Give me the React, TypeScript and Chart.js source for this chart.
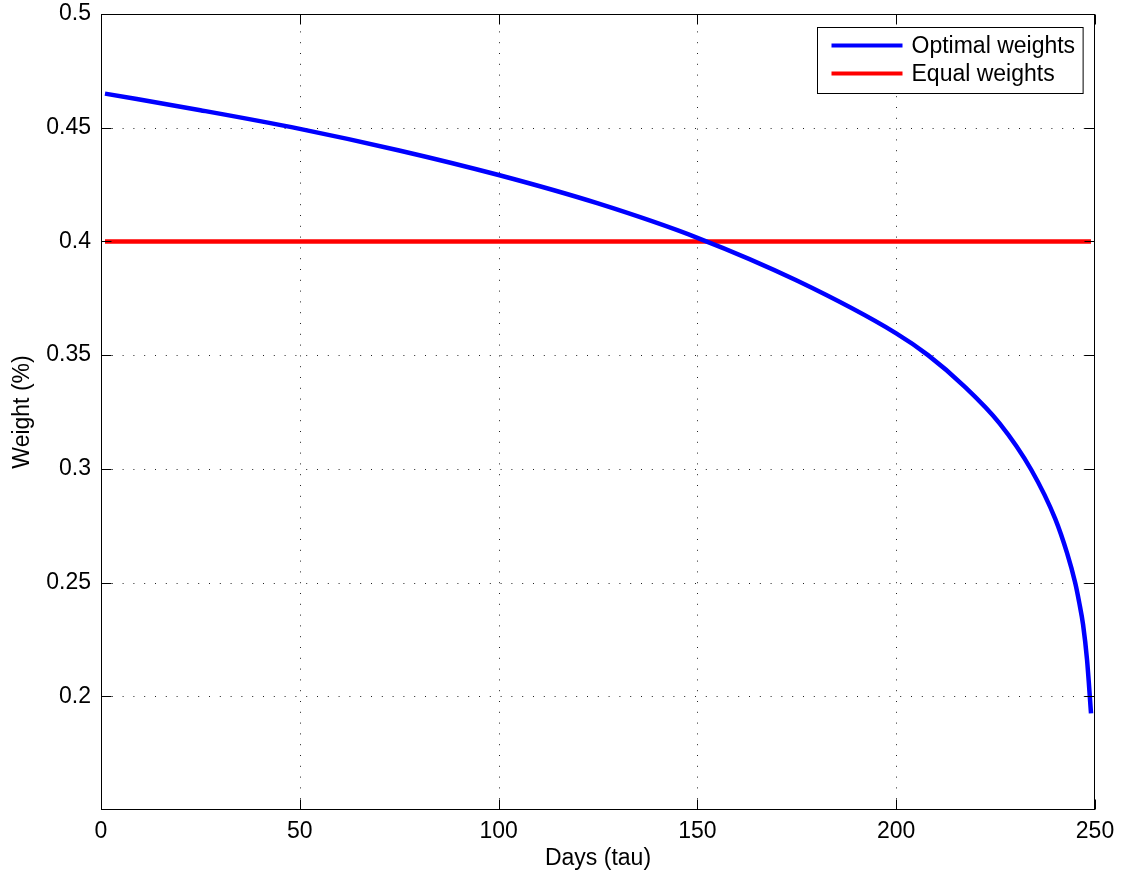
import React, { useEffect, useRef } from "react";
import { Chart, registerables } from "chart.js";

Chart.register(...registerables);

const days = [1, 25, 50, 75, 100, 125, 150, 175, 200, 208, 217, 226, 234, 240, 243, 245, 246, 247, 248, 249];
const optimalWeights = [0.465, 0.4577, 0.4495, 0.44, 0.4292, 0.4167, 0.4016, 0.3828, 0.3596, 0.35, 0.3365, 0.32, 0.2995, 0.278, 0.2628, 0.25, 0.2415, 0.2315, 0.216, 0.1925];
const equalDays = [1, 249];
const equalWeights = [0.4, 0.4];
const xTicks = [0, 50, 100, 150, 200, 250];
const yTicks = [0.2, 0.25, 0.3, 0.35, 0.4, 0.45, 0.5];
const seriesNames = ["Optimal weights", "Equal weights"];

const FONT = '"Liberation Sans", Arial, Helvetica, sans-serif';
const FS = 23;

const framePlugin = {
  id: "matlabFrame",
  beforeDatasetsDraw(chart: any) {
    const { ctx, chartArea: a, scales } = chart;
    const xs = scales.x, ys = scales.y;
    ctx.save();
    ctx.strokeStyle = "#222";
    ctx.lineWidth = 1;
    ctx.setLineDash([1, 9.8]);
    for (const v of xTicks) {
      if (v <= xs.min || v >= xs.max) continue;
      const px = Math.round(xs.getPixelForValue(v)) + 0.5;
      ctx.beginPath();
      ctx.moveTo(px, a.bottom);
      ctx.lineTo(px, a.top);
      ctx.stroke();
    }
    for (const v of yTicks) {
      if (v <= ys.min || v >= ys.max) continue;
      const py = Math.round(ys.getPixelForValue(v)) + 0.5;
      ctx.beginPath();
      ctx.moveTo(a.left, py);
      ctx.lineTo(a.right, py);
      ctx.stroke();
    }
    ctx.restore();
  },
  afterDatasetsDraw(chart: any) {
    const { ctx, chartArea: a, scales } = chart;
    const xs = scales.x, ys = scales.y;
    ctx.save();
    ctx.setLineDash([]);
    ctx.strokeStyle = "#000";
    ctx.lineWidth = 1;
    const L = Math.round(a.left) + 0.5, R = Math.round(a.right) - 0.5;
    const T = Math.round(a.top) + 0.5, B = Math.round(a.bottom) - 0.5;
    ctx.strokeRect(L, T, R - L, B - T);
    const tl = 10;
    ctx.beginPath();
    for (const v of xTicks) {
      const px = Math.round(xs.getPixelForValue(v)) + 0.5;
      ctx.moveTo(px, B); ctx.lineTo(px, B - tl);
      ctx.moveTo(px, T); ctx.lineTo(px, T + tl);
    }
    for (const v of yTicks) {
      const py = Math.round(ys.getPixelForValue(v)) + 0.5;
      ctx.moveTo(L, py); ctx.lineTo(L + tl, py);
      ctx.moveTo(R, py); ctx.lineTo(R - tl, py);
    }
    ctx.stroke();

    // legend
    ctx.font = `${FS}px ${FONT}`;
    const ds = chart.data.datasets;
    let tw = 0;
    for (const d of ds) tw = Math.max(tw, ctx.measureText(d.label).width);
    const padL = 14, sampleW = 71, gap = 9, padR = 8;
    const boxW = padL + sampleW + gap + tw + padR;
    const boxH = 66;
    const bx = Math.round(a.right - 12 - boxW) + 0.5;
    const by = Math.round(a.top + 13) + 0.5;
    ctx.fillStyle = "#fff";
    ctx.fillRect(bx, by, boxW, boxH);
    ctx.strokeStyle = "#000";
    ctx.lineWidth = 1;
    ctx.strokeRect(bx, by, boxW, boxH);
    ds.forEach((d: any, i: number) => {
      const cy = by + 18 + i * 28;
      ctx.strokeStyle = d.borderColor;
      ctx.lineWidth = 4;
      ctx.beginPath();
      ctx.moveTo(bx + padL, cy);
      ctx.lineTo(bx + padL + sampleW, cy);
      ctx.stroke();
      ctx.fillStyle = "#000";
      ctx.textBaseline = "middle";
      ctx.textAlign = "left";
      ctx.fillText(d.label, bx + padL + sampleW + gap, cy + 1);
    });
    ctx.restore();
  },
};

export default function App() {
  const ref = useRef<HTMLCanvasElement | null>(null);
  useEffect(() => {
    if (!ref.current) return;
    const chart = new Chart(ref.current, {
      type: "line",
      data: {
        datasets: [
          {
            label: seriesNames[0],
            data: days.map((d, i) => ({ x: d, y: optimalWeights[i] })),
            borderColor: "#0000ff",
            borderWidth: 4.5,
            pointRadius: 0,
            cubicInterpolationMode: "monotone",
            fill: false,
          },
          {
            label: seriesNames[1],
            data: equalDays.map((d, i) => ({ x: d, y: equalWeights[i] })),
            borderColor: "#ff0000",
            borderWidth: 4.5,
            pointRadius: 0,
            fill: false,
          },
        ],
      },
      options: {
        animation: false,
        responsive: false,
        devicePixelRatio: 1,
        layout: { padding: { left: 0, top: 14, right: 30, bottom: 0 } },
        plugins: { legend: { display: false }, tooltip: { enabled: false } },
        scales: {
          x: {
            type: "linear",
            min: 0,
            max: 250,
            grid: { display: false, drawTicks: false },
            border: { display: false },
            afterBuildTicks: (s: any) => { s.ticks = xTicks.map((v) => ({ value: v })); },
            afterFit: (s: any) => { s.height = 69; s.paddingLeft = 0; s.paddingRight = 0; },
            ticks: {
              padding: 8,
              color: "#000",
              font: { family: FONT, size: FS },
              maxRotation: 0,
              callback: (v: any) => String(v),
            },
            title: {
              display: true,
              text: "Days (tau)",
              color: "#000",
              font: { family: FONT, size: FS },
              padding: { top: 0, bottom: 7 },
            },
          },
          y: {
            type: "linear",
            min: 0.15,
            max: 0.5,
            grid: { display: false, drawTicks: false },
            border: { display: false },
            afterBuildTicks: (s: any) => { s.ticks = yTicks.map((v) => ({ value: v })); },
            afterFit: (s: any) => { s.width = 101; s.paddingTop = 0; s.paddingBottom = 0; },
            ticks: {
              padding: 10,
              color: "#000",
              font: { family: FONT, size: FS },
              callback: (v: any) => String(Number(Number(v).toFixed(2))),
            },
            title: {
              display: true,
              text: "Weight (%)",
              color: "#000",
              font: { family: FONT, size: FS },
              padding: { top: 9, bottom: 0 },
            },
          },
        },
      },
      plugins: [framePlugin],
    } as any);
    return () => chart.destroy();
  }, []);
  return (
    <div style={{ position: "fixed", left: 0, top: 0, width: 1125, height: 879, background: "#fff" }}>
      <canvas ref={ref} width={1125} height={879} style={{ display: "block", width: 1125, height: 879 }} />
    </div>
  );
}
